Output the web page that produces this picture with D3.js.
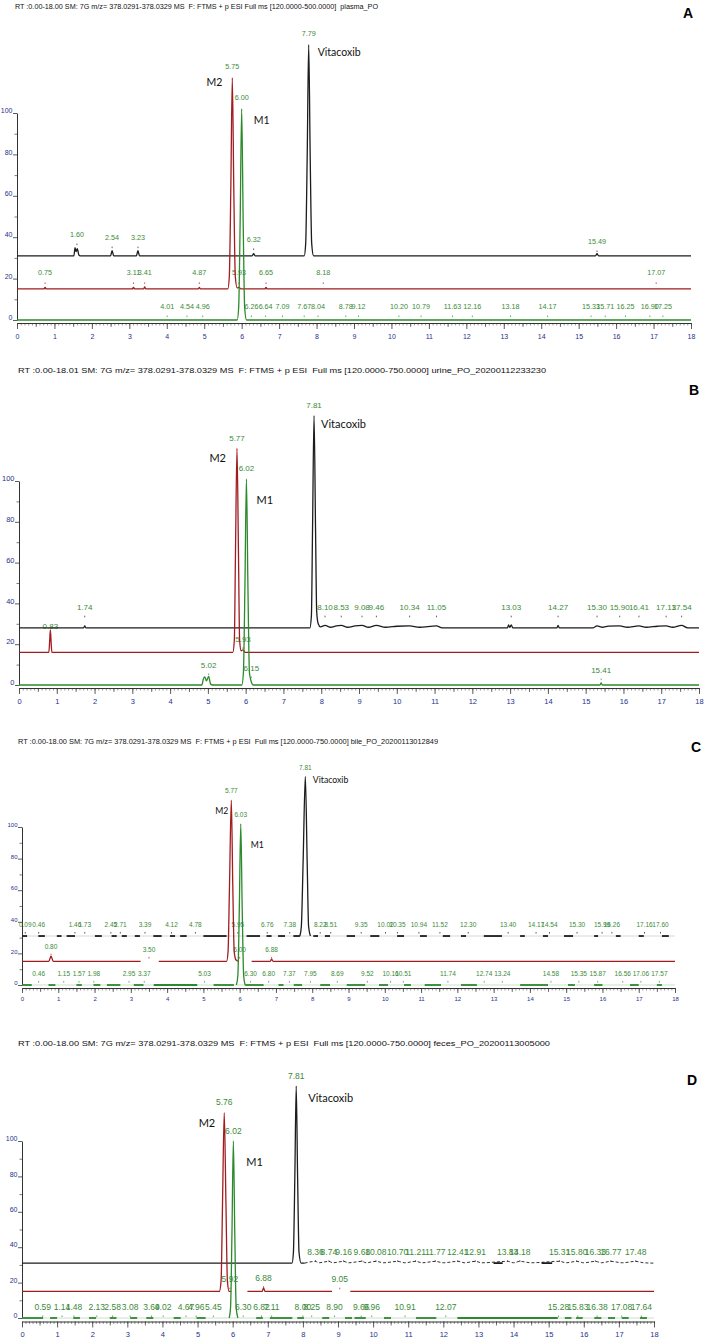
<!DOCTYPE html>
<html>
<head>
<meta charset="utf-8">
<script src="https://cdn.jsdelivr.net/npm/d3@7"></script>
<style>
  html, body { margin: 0; padding: 0; background: #fff; }
  svg { display: block; }
  text { font-family: "Liberation Sans", Arial, sans-serif; }
  .title { white-space: pre; }
  .name { font-family: Lato, "Open Sans", sans-serif; }
</style>
</head>
<body>
<div id="chart"></div>
<script>
// ---------- data ----------
const rtTicks = [0, 1, 2, 3, 4, 5, 6, 7, 8, 9, 10, 11, 12, 13, 14, 15, 16, 17, 18];
const abundanceTicks = [0, 20, 40, 60, 80, 100];
const abundanceMinor = [10, 30, 50, 70, 90];
const compoundNames = ["Vitacoxib", "M2", "M1"];
const panelLetters = ["A", "B", "C", "D"];
const panelTitles = [
  "RT :0.00-18.00 SM: 7G m/z= 378.0291-378.0329 MS  F: FTMS + p ESI Full ms [120.0000-500.0000]  plasma_PO",
  "RT :0.00-18.01 SM: 7G m/z= 378.0291-378.0329 MS  F: FTMS + p ESI  Full ms [120.0000-750.0000] urine_PO_20200112233230",
  "RT :0.00-18.00 SM: 7G m/z= 378.0291-378.0329 MS  F: FTMS + p ESI  Full ms [120.0000-750.0000] bile_PO_20200113012849",
  "RT :0.00-18.00 SM: 7G m/z= 378.0291-378.0329 MS  F: FTMS + p ESI  Full ms [120.0000-750.0000] feces_PO_20200113005000"
];

// baseline offset of the black, red, green traces (relative abundance units)
const offsetsA = [31, 15, 0];
const offsetsB = [28, 16, 0];
const offsetsC = [31, 15, 0];
const offsetsD = [31, 15, 0];

// traces: [retention time, abundance above own baseline]; null = gap in the trace
const traceA_black = [[0,0],[1.52,0],[1.55,4],[1.58,2],[1.61,3.5],[1.65,0.5],[1.69,0],[2.50,0],[2.54,2.5],[2.58,0],[3.19,0],[3.23,2.5],[3.27,0],[6.28,0],[6.32,1],[6.36,0],[7.67,0],[7.71,6],[7.75,48],[7.79,102],[7.83,48],[7.87,6],[7.92,0],[15.45,0],[15.49,1],[15.53,0],[18,0]];
const traceA_red = [[0,0],[0.72,0],[0.75,0.8],[0.78,0],[3.08,0],[3.11,0.8],[3.14,0],[3.38,0],[3.41,1],[3.44,0],[4.84,0],[4.87,0.7],[4.90,0],[5.63,0],[5.67,6],[5.71,48],[5.75,102],[5.79,48],[5.83,6],[5.88,0.5],[5.93,0.8],[5.98,0],[6.62,0],[6.65,0.8],[6.68,0],[18,0]];
const traceA_green = [[0,0],[5.88,0],[5.92,6],[5.96,48],[6.00,102],[6.04,48],[6.08,6],[6.13,0],[18,0]];

const traceB_black = [[0,0],[1.71,0],[1.74,1],[1.77,0],[7.70,0],[7.74,6],[7.77,48],[7.81,104],[7.85,48],[7.88,8],[7.92,2],[7.98,0.5],[8.10,1.2],[8.25,0.3],[8.40,1],[8.53,1.2],[8.70,0.3],[8.90,1],[9.08,1.2],[9.25,0.3],[9.46,1.2],[9.70,0.3],[10.00,0.8],[10.34,1],[10.60,0.3],[11.05,1],[11.20,0],[12.93,0],[12.96,1.5],[12.99,0.2],[13.03,1.5],[13.07,0],[14.24,0],[14.27,1.2],[14.30,0],[15.20,0],[15.30,1],[15.45,0.3],[15.60,0.9],[15.90,1],[16.10,0.3],[16.41,1],[16.60,0.3],[16.90,0.8],[17.13,1],[17.30,0.3],[17.54,1.2],[17.70,0],[18,0]];
const traceB_red = [[0,0],[0.79,0],[0.81,5],[0.83,11],[0.85,5],[0.87,0],[5.66,0],[5.70,6],[5.73,48],[5.77,100],[5.81,48],[5.84,6],[5.88,0.8],[5.93,1.2],[5.98,0],[18,0]];
const traceB_green = [[0,0],[4.84,0],[4.88,3],[4.92,4],[4.96,2],[5.02,4.2],[5.07,0.5],[5.12,0],[5.90,0],[5.94,6],[5.98,48],[6.02,101],[6.06,48],[6.10,6],[6.15,1.5],[6.20,0],[15.38,0],[15.41,1],[15.44,0],[18,0]];

const traceC_black = [[7.66,0],[7.70,6],[7.75,48],[7.81,101],[7.86,48],[7.90,6],[7.95,0]];
const dashesC_black = [[0,0.14],[0.45,0.63],[0.96,1.09],[1.23,1.46],[2.01,2.2],[2.47,2.61],[2.75,2.89],[3.11,3.25],[3.62,3.85],[4.08,4.22],[4.36,4.54],[5.0,5.64],[6.19,6.56],[6.74,6.88],[7.06,7.25],[7.48,7.66],[8.03,8.16],[8.35,8.49],[8.95,9.18],[9.6,9.85],[10.34,10.53],[10.97,11.16],[11.6,11.8],[12.1,12.24],[12.73,13.23],[13.73,13.86],[14.36,14.5],[14.94,15.19],[15.77,15.88],[16.37,16.5],[17.0,17.14],[17.64,17.83]];
const traceC_red = [[0,0],[0.74,0],[0.80,3.3],[0.86,0],[3.27,0],[3.27,null],[3.77,0],[5.64,0],[5.68,6],[5.72,48],[5.77,102],[5.81,48],[5.85,6],[5.90,0.8],[5.97,0],[5.97,null],[6.33,0],[6.84,0],[6.88,1.3],[6.92,0],[18,0]];
const traceC_green = [[5.91,0],[5.95,6],[5.99,48],[6.03,102],[6.07,48],[6.11,6],[6.15,0]];
const dashesC_green = [[0,0.27],[0.73,0.92],[1.5,1.65],[1.97,2.16],[2.34,2.71],[3.08,3.35],[3.63,4.83],[5.28,5.84],[6.15,6.66],[7.07,7.21],[7.49,7.72],[8.22,8.49],[8.95,9.46],[9.84,10.09],[10.53,10.72],[11.1,11.55],[12.1,12.54],[13.73,14.5],[15.05,15.24],[15.77,16.0],[16.76,17.0],[17.5,17.64]];

const traceD_black = [[0,0],[7.69,0],[7.73,6],[7.77,48],[7.81,100],[7.85,48],[7.89,6],[7.95,0],[8.05,0]];
const tailD_black = [[8.05,0],[8.36,1],[8.45,0.2],[8.74,1],[8.85,0.2],[9.16,1],[9.30,0.2],[9.68,1],[9.80,0.2],[10.08,1],[10.30,0.2],[10.70,1],[10.90,0.2],[11.21,1],[11.40,0.2],[11.77,1],[12.00,0.2],[12.41,1],[12.60,0.2],[12.91,1],[13.10,0.2],[13.83,1],[14.00,0.2],[14.18,1],[14.50,0.2],[15.31,1],[15.50,0.2],[15.80,1],[16.00,0.2],[16.33,1],[16.50,0.2],[16.77,1],[17.10,0.2],[17.48,1],[17.70,0.2],[18,0]];
const dashesD_black = [[13.43,13.69],[14.8,15.1]];
const traceD_red = [[0,0],[5.62,0],[5.67,6],[5.71,48],[5.76,101],[5.81,48],[5.85,6],[5.90,0],[5.96,0],[5.96,null],[6.42,0],[6.84,0],[6.88,2],[6.92,0],[8.83,0],[8.83,null],[9.35,0],[18,0]];
const traceD_green = [[5.90,0],[5.94,6],[5.98,48],[6.02,100],[6.06,48],[6.10,6],[6.15,0]];
const dashesD_green = [[0,0.6],[0.8,1.0],[1.46,1.65],[1.91,2.11],[2.5,2.69],[3.08,3.28],[3.54,3.74],[4.32,4.52],[4.97,5.23],[6.67,6.86],[7.06,7.7],[7.84,8.03],[8.55,8.75],[9.2,9.4],[9.47,9.79],[10.31,10.51],[11.22,11.8],[12.4,15.26],[15.46,15.65],[15.78,15.97],[16.3,16.5],[16.69,16.89],[17.08,17.28],[17.6,17.8]];

// labelled peaks: [retention time, apex abundance above own baseline]
const peaksA_black = [[1.60,5],[2.54,3.5],[3.23,3.5],[6.32,2.6],[7.79,102],[15.49,1.6]];
const peaksA_red = [[0.75,2.2],[3.11,2.2],[3.41,2.2],[4.87,2.2],[5.75,102],[5.93,2.2],[6.65,2.2],[8.18,2.2],[17.07,2.2]];
const peaksA_green = [[4.01,1.2],[4.54,1.2],[4.96,1.2],[6.00,102],[6.26,1.2],[6.64,1.2],[7.09,1.2],[7.67,1.2],[8.04,1.2],[8.78,1.2],[9.12,1.2],[10.20,1.2],[10.79,1.2],[11.63,1.2],[12.16,1.2],[13.18,1.2],[14.17,1.2],[15.33,1.2],[15.71,1.2],[16.25,1.2],[16.90,1.2],[17.25,1.2]];

const peaksB_black = [[1.74,5],[7.81,104],[8.10,5],[8.53,5],[9.08,5],[9.46,5],[10.34,5],[11.05,5],[13.03,5],[14.27,5],[15.30,5],[15.90,5],[16.41,5],[17.13,5],[17.54,5]];
const peaksB_red = [[0.83,7.8],[5.77,100],[5.93,1.5]];
const peaksB_green = [[5.02,4.7],[6.02,101],[6.15,3.2],[15.41,2.2]];

const peaksC_black = [[0.09,1.3],[0.46,1.3],[1.46,1.3],[1.73,1.3],[2.45,1.3],[2.71,1.3],[3.39,1.3],[4.12,1.3],[4.78,1.3],[5.95,1.3],[6.76,1.3],[7.38,1.3],[7.81,101],[8.22,1.3],[8.51,1.3],[9.35,1.3],[10.02,1.3],[10.35,1.3],[10.94,1.3],[11.52,1.3],[12.30,1.3],[13.40,1.3],[14.17,1.3],[14.54,1.3],[15.30,1.3],[15.99,1.3],[16.26,1.3],[17.16,1.3],[17.60,1.3]];
const peaksC_red = [[0.80,3.5],[3.50,1.5],[5.77,102],[6.00,1.5],[6.88,1.5]];
const peaksC_green = [[0.46,1.3],[1.15,1.3],[1.57,1.3],[1.98,1.3],[2.95,1.3],[3.37,1.3],[5.03,1.3],[6.03,102],[6.30,1.3],[6.80,1.3],[7.37,1.3],[7.95,1.3],[8.69,1.3],[9.52,1.3],[10.16,1.3],[10.51,1.3],[11.74,1.3],[12.74,1.3],[13.24,1.3],[14.58,1.3],[15.35,1.3],[15.87,1.3],[16.56,1.3],[17.06,1.3],[17.57,1.3]];

const peaksD_black = [[7.81,100],[8.36,0.5],[8.74,0.5],[9.16,0.5],[9.68,0.5],[10.08,0.5],[10.70,0.5],[11.21,0.5],[11.77,0.5],[12.41,0.5],[12.91,0.5],[13.83,0.5],[14.18,0.5],[15.31,0.5],[15.80,0.5],[16.33,0.5],[16.77,0.5],[17.48,0.5]];
const peaksD_red = [[5.76,101],[5.92,1],[6.88,1.9],[9.05,1]];
const peaksD_green = [[0.59,0.3],[1.14,0.3],[1.48,0.3],[2.13,0.3],[2.58,0.3],[3.08,0.3],[3.69,0.3],[4.02,0.3],[4.67,0.3],[4.96,0.3],[5.45,0.3],[6.02,100],[6.30,0.3],[6.82,0.3],[7.11,0.3],[8.00,0.3],[8.25,0.3],[8.90,0.3],[9.66,0.3],[9.96,0.3],[10.91,0.3],[12.07,0.3],[15.28,0.3],[15.83,0.3],[16.38,0.3],[17.08,0.3],[17.64,0.3]];

// ---------- layout ----------
const width = 710, height = 1339;
const traceColors = ["#1c1c1c", "#a11c1f", "#2b8a2b"];
const labelColor = "#3b8a38";
const tickColor = "#28308c";

const panels = [
  { x0: 17, x1: 691, y0: 320, y100: 113, axisY: 323, tickLen: 6, xPad: 5.5, tickSize: 7, ySize: 7,
    title: [15, 9.2, 7, 363], letter: [688, 18],
    offsets: offsetsA, labelSize: 7.2, labelGap: 8.9, nameSize: 10.5,
    names: [[9, 8], [-10, 5], [12, 11]],
    traces: [{ pts: traceA_black }, { pts: traceA_red }, { pts: traceA_green }],
    peaks: [peaksA_black, peaksA_red, peaksA_green] },
  { x0: 19, x1: 699, y0: 685, y100: 481, axisY: 688, tickLen: 6, xPad: 5, tickSize: 7.5, ySize: 7.5,
    title: [18, 373, 8, 528], letter: [694, 395],
    offsets: offsetsB, labelSize: 8, labelGap: 7.5, nameSize: 11,
    names: [[7, 8], [-11, 10], [10, 21]],
    traces: [{ pts: traceB_black }, { pts: traceB_red }, { pts: traceB_green }],
    peaks: [peaksB_black, peaksB_red, peaksB_green] },
  { x0: 22, x1: 675, y0: 985, y100: 827, axisY: 988, tickLen: 5, xPad: 3.9, tickSize: 6, ySize: 6,
    title: [18, 744, 6.5, 420], letter: [696, 752],
    offsets: offsetsC, labelSize: 6.5, labelGap: 6.7, nameSize: 8.7,
    names: [[7.5, 4], [-3, 11], [10, 21]],
    traces: [{ pts: traceC_black, dashes: dashesC_black, faint: true },
             { pts: traceC_red },
             { pts: traceC_green, dashes: dashesC_green, faint: true }],
    peaks: [peaksC_black, peaksC_red, peaksC_green] },
  { x0: 22, x1: 654, y0: 1318, y100: 1141, axisY: 1321.5, tickLen: 6, xPad: 3.9, tickSize: 7.5, ySize: 7,
    title: [18, 1046, 8, 532], letter: [692, 1085],
    offsets: offsetsD, labelSize: 8.5, labelGap: 7.4, nameSize: 11,
    names: [[12, 12], [-9, 10], [13, 21]],
    traces: [{ pts: traceD_black, tail: tailD_black, dashes: dashesD_black },
             { pts: traceD_red },
             { pts: traceD_green, dashes: dashesD_green, faint: true }],
    peaks: [peaksD_black, peaksD_red, peaksD_green] }
];

const svg = d3.select("#chart").append("svg")
  .attr("width", width)
  .attr("height", height)
  .attr("viewBox", `0 0 ${width} ${height}`);

panels.forEach(drawPanel);

function drawPanel(p, i) {
  const g = svg.append("g");
  const x = d3.scaleLinear().domain([0, 18]).range([p.x0, p.x1]);
  const y = d3.scaleLinear().domain([0, 100]).range([p.y0, p.y100]);

  // header line and panel letter
  g.append("text")
    .attr("class", "title")
    .attr("x", p.title[0])
    .attr("y", p.title[1])
    .attr("font-size", p.title[2])
    .attr("textLength", p.title[3])
    .attr("lengthAdjust", "spacingAndGlyphs")
    .attr("fill", "#111")
    .text(panelTitles[i]);

  g.append("text")
    .attr("x", p.letter[0])
    .attr("y", p.letter[1])
    .attr("text-anchor", "middle")
    .attr("font-size", 14)
    .attr("font-weight", "bold")
    .text(panelLetters[i]);

  // x axis as a ruler: 0.1 min, 0.5 min and labelled 1 min ticks
  const minor = d3.range(0, 181).map(k => k / 10);
  const half = d3.range(0, 18).map(k => k + 0.5);

  g.append("g")
    .attr("transform", `translate(0,${p.axisY})`)
    .call(d3.axisBottom(x).tickValues(minor).tickSize(2.5).tickFormat("").tickSizeOuter(0))
    .call(a => a.select(".domain").remove())
    .call(a => a.selectAll("line").attr("stroke", "#555").attr("stroke-width", 0.6));

  g.append("g")
    .attr("transform", `translate(0,${p.axisY})`)
    .call(d3.axisBottom(x).tickValues(half).tickSize(4).tickFormat("").tickSizeOuter(0))
    .call(a => a.select(".domain").remove())
    .call(a => a.selectAll("line").attr("stroke", "#444").attr("stroke-width", 0.7));

  g.append("g")
    .attr("transform", `translate(0,${p.axisY})`)
    .call(d3.axisBottom(x).tickValues(rtTicks).tickSize(p.tickLen).tickPadding(p.xPad).tickSizeOuter(0))
    .call(a => a.select(".domain").attr("stroke", "#333").attr("stroke-width", 1))
    .call(a => a.selectAll("line").attr("stroke", "#333").attr("stroke-width", 0.8))
    .call(a => a.selectAll("text")
      .attr("font-size", p.tickSize)
      .attr("font-family", "Liberation Sans, Arial, sans-serif")
      .attr("fill", tickColor));

  // y axis, relative abundance
  g.append("g")
    .attr("transform", `translate(${p.x0},0)`)
    .call(d3.axisLeft(y).tickValues(abundanceMinor).tickSize(2.5).tickFormat("").tickSizeOuter(0))
    .call(a => a.select(".domain").remove())
    .call(a => a.selectAll("line").attr("stroke", "#444").attr("stroke-width", 0.7));

  g.append("g")
    .attr("transform", `translate(${p.x0},0)`)
    .call(d3.axisLeft(y).tickValues(abundanceTicks).tickSize(4).tickPadding(0.5).tickSizeOuter(0))
    .call(a => a.select(".domain").attr("stroke", "#333").attr("stroke-width", 1))
    .call(a => a.selectAll("line").attr("stroke", "#333").attr("stroke-width", 0.8))
    .call(a => a.selectAll("text")
      .attr("dy", "-0.05em")
      .attr("font-size", p.ySize)
      .attr("font-family", "Liberation Sans, Arial, sans-serif")
      .attr("fill", tickColor));

  // peak labels first so the traces run over them, as in the original
  p.peaks.forEach((peaks, k) => {
    const off = p.offsets[k];
    g.append("g").selectAll("text")
      .data(peaks)
      .join("text")
      .attr("x", d => x(d[0]))
      .attr("y", d => y(off + d[1]) - p.labelGap)
      .attr("text-anchor", "middle")
      .attr("font-size", p.labelSize)
      .attr("fill", labelColor)
      .text(d => d[0].toFixed(2));

    g.append("g").selectAll("rect")
      .data(peaks.filter(d => d[1] < 50))
      .join("rect")
      .attr("x", d => x(d[0]) - 0.5)
      .attr("y", d => y(off + d[1]) - 2)
      .attr("width", 1)
      .attr("height", 1.6)
      .attr("fill", traceColors[k])
      .attr("opacity", 0.7);
  });

  // traces
  p.traces.forEach((t, k) => {
    const off = p.offsets[k];
    const line = d3.line()
      .defined(d => d[1] !== null)
      .x(d => x(d[0]))
      .y(d => y(off + d[1]))
      .curve(d3.curveMonotoneX);

    if (t.faint) {
      g.append("line")
        .attr("x1", x(0)).attr("x2", x(18))
        .attr("y1", y(off)).attr("y2", y(off))
        .attr("stroke", k === 2 ? "#a9cfa9" : "#bdbdbd")
        .attr("stroke-width", 0.6);
    }

    if (t.dashes) {
      g.append("g").selectAll("line")
        .data(t.dashes)
        .join("line")
        .attr("x1", d => x(d[0]))
        .attr("x2", d => x(d[1]))
        .attr("y1", y(off))
        .attr("y2", y(off))
        .attr("stroke", traceColors[k])
        .attr("stroke-width", 1.8);
    }

    if (t.tail) {
      g.append("path")
        .datum(t.tail)
        .attr("d", line)
        .attr("fill", "none")
        .attr("stroke", traceColors[k])
        .attr("stroke-width", 0.9)
        .attr("stroke-dasharray", "3,2");
    }

    g.append("path")
      .datum(t.pts)
      .attr("d", line)
      .attr("fill", "none")
      .attr("stroke", traceColors[k])
      .attr("stroke-width", 1.3)
      .attr("stroke-linejoin", "round");
  });

  // compound names next to the three main peaks
  p.peaks.forEach((peaks, k) => {
    const top = peaks.reduce((a, b) => (b[1] > a[1] ? b : a));
    const [dx, dy] = p.names[k];
    g.append("text")
      .attr("class", "name")
      .attr("x", x(top[0]) + dx)
      .attr("y", y(p.offsets[k] + top[1]) + dy)
      .attr("dy", "0.35em")
      .attr("text-anchor", k === 1 ? "end" : "start")
      .attr("font-size", p.nameSize)
      .attr("fill", "#111")
      .text(compoundNames[k]);
  });
}
</script>
</body>
</html>
